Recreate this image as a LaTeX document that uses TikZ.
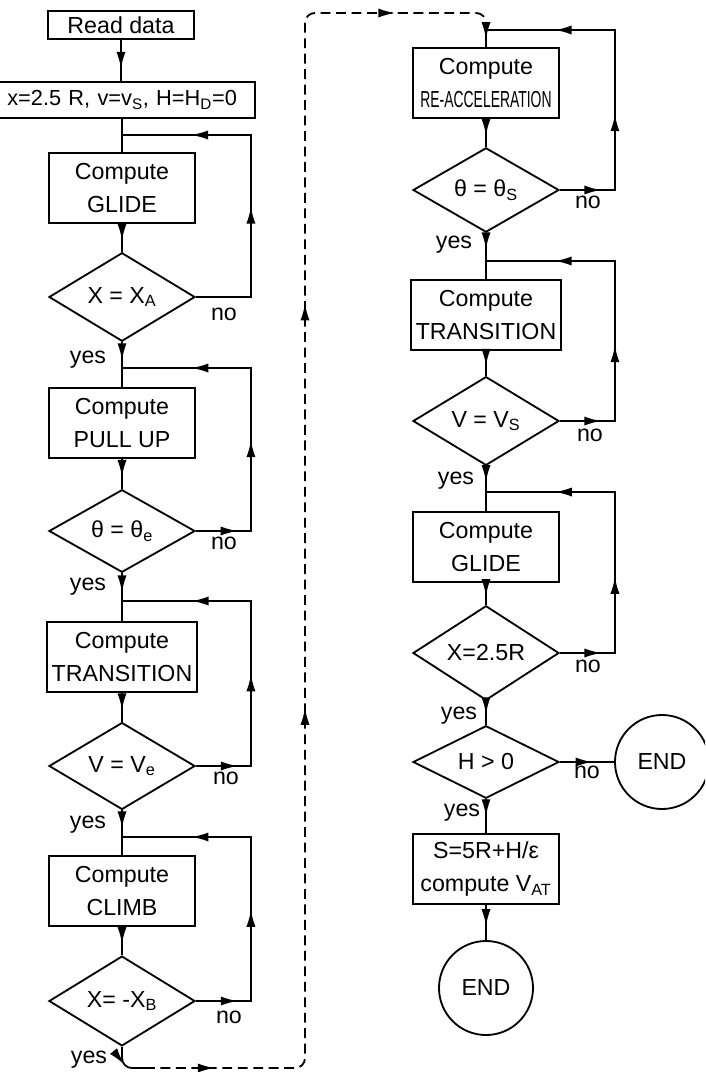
\documentclass[tikz,border=0pt]{standalone}
\usepackage{graphicx}
\usepackage{fontspec}
\setmainfont{Liberation Sans}
\usetikzlibrary{shapes.geometric}
\usetikzlibrary{arrows.meta}
\usetikzlibrary{decorations.markings}
\tikzset{>={Latex[length=12pt,width=6.5pt]}}
\newcommand{\lettering}{\fontsize{16.5}{24}\selectfont}
\tikzset{
    markat/.style={postaction={decorate,decoration={markings,mark=at position #1 with {\arrow{>}}}}},
    proc/.style={draw, minimum width=3.65cm, minimum height=1.75cm, align=center, font=\lettering},
    test/.style={draw, diamond, minimum width=3.65cm, minimum height=1.75cm, inner sep=0pt, font=\lettering},
    stop/.style={draw, circle, minimum size=2.35cm, font=\lettering},
    lbl/.style={font=\lettering, inner sep=0pt},
    back/.style={dash pattern=on 7pt off 4pt},
}

\begin{document}
\begin{tikzpicture}[x=0.025cm, y=-0.025cm, line width=1.3pt]
    \useasboundingbox (0,0) rectangle (705,1072);
    \clip (0,0) rectangle (705,1072);
    % first column
    \node[proc, minimum height=0.7cm] (read) at (121,25) {Read data};
    \node[proc, minimum height=0.9cm, text width=6.25cm, inner xsep=0.45cm, align=right, font=\fontsize{15.5}{18}\selectfont]
        (init) at (112,100) {x=2.5 R, v=v\textsubscript{S}, H=H\textsubscript{D}=0};
    \coordinate (j1) at (122,135);
    \node[proc] (glide1) at (122,188) {Compute\\GLIDE};
    \node[test] (dA) at (122,297) {X = X\textsubscript{A}};
    \coordinate (j2) at (122,368);
    \node[proc] (pull) at (122,423) {Compute\\PULL UP};
    \node[test] (dth) at (122,531) {θ = θ\textsubscript{e}};
    \coordinate (j3) at (122,601);
    \node[proc] (trans1) at (122,657) {Compute\\TRANSITION};
    \node[test] (dve) at (122,766) {V = V\textsubscript{e}};
    \coordinate (j4) at (122,837);
    \node[proc] (climb) at (122,891) {Compute\\CLIMB};
    \node[test] (dxb) at (122,1001) {X= -X\textsubscript{B}};

    \draw[markat=0.7] (read) -- (read |- init.north);
    \draw (init.south -| glide1) -- (glide1);
    \draw[markat=0.6] (glide1) -- (dA);
    \draw[markat=0.42, markat=0.8] (dA.east) -- ++(55,0) |- (j1);
    \draw[markat=0.4] (dA) -- (pull);
    \draw[markat=0.6] (pull) -- (dth);
    \draw[markat=0.12, markat=0.42, markat=0.8] (dth.east) -- ++(55,0) |- (j2);
    \draw[markat=0.4] (dth) -- (trans1);
    \draw[markat=0.6] (trans1) -- (dve);
    \draw[markat=0.12, markat=0.42, markat=0.8] (dve.east) -- ++(55,0) |- (j3);
    \draw[markat=0.4] (dve) -- (climb);
    \draw[markat=0.6] (climb) -- (dxb);
    \draw[markat=0.12, markat=0.42, markat=0.8] (dxb.east) -- ++(55,0) |- (j4);

    \node[lbl] (yA) at ([shift={(-34,17)}]dA.south) {yes};
    \node[lbl] (nA) at ([shift={(28,17)}]dA.east) {no};
    \node[lbl] (yth) at ([shift={(-34,13)}]dth.south) {yes};
    \node[lbl] (nth) at ([shift={(28,12)}]dth.east) {no};
    \node[lbl] (yve) at ([shift={(-34,14)}]dve.south) {yes};
    \node[lbl] (nve) at ([shift={(30,12)}]dve.east) {no};
    \node[lbl] (yxb) at ([shift={(-33,13)}]dxb.south) {yes};
    \node[lbl] (nxb) at ([shift={(33,16)}]dxb.east) {no};

    % second column
    \coordinate (top) at (486,24);
    \coordinate (r1) at (486,30);
    \node[proc] (reacc) at (486,83) {Compute\\\scalebox{0.6}[1]{RE-ACCELERATION}};
    \node[test] (dths) at (486,190) {θ = θ\textsubscript{S}};
    \coordinate (r2) at (486,261);
    \node[proc] (trans2) at (486,315) {Compute\\TRANSITION};
    \node[test] (dvs) at (486,421) {V = V\textsubscript{S}};
    \coordinate (r3) at (486,492);
    \node[proc] (glide2) at (486,547) {Compute\\GLIDE};
    \node[test] (d25) at (486,653) {X=2.5R};
    \node[test] (dh) at (486,762) {H > 0};
    \node[stop] (end1) at (662,762) {END};
    \node[proc] (calc) at (486,869) {S=5R+H/ε\\compute V\textsubscript{AT}};
    \node[stop] (end2) at (486,988) {END};

    \draw[markat=0.65] (top) -- (reacc);
    \draw[markat=0.6] (reacc) -- (dths);
    \draw[markat=0.12, markat=0.38, markat=0.8] (dths.east) -- ++(55,0) |- (r1);
    \draw[markat=0.35] (dths) -- (trans2);
    \draw[markat=0.6] (trans2) -- (dvs);
    \draw[markat=0.12, markat=0.38, markat=0.8] (dvs.east) -- ++(55,0) |- (r2);
    \draw[markat=0.35] (dvs) -- (glide2);
    \draw[markat=0.6] (glide2) -- (d25);
    \draw[markat=0.12, markat=0.38, markat=0.8] (d25.east) -- ++(55,0) |- (r3);
    \draw[markat=0.55] (d25) -- (dh);
    \draw[markat=0.6] (dh) -- (end1);
    \draw[markat=0.5] (dh) -- (calc);
    \draw[markat=0.6] (calc) -- (end2);

    \node[lbl] (yths) at ([shift={(-32,12)}]dths.south) {yes};
    \node[lbl] (nths) at ([shift={(28,12)}]dths.east) {no};
    \node[lbl] (yvs) at ([shift={(-30,14)}]dvs.south) {yes};
    \node[lbl] (nvs) at ([shift={(30,14)}]dvs.east) {no};
    \node[lbl] (y25) at ([shift={(-27,15)}]d25.south) {yes};
    \node[lbl] (n25) at ([shift={(28,13)}]d25.east) {no};
    \node[lbl] (yh) at ([shift={(-24,13)}]dh.south) {yes};
    \node[lbl] (nh) at ([shift={(27,10)}]dh.east) {no};

    % return from the first column to the second
    \draw[rounded corners=7pt, markat=0.45] (dxb.south) |- (145,1068);
    \draw[back, rounded corners=7pt, markat=0.05, markat=0.37, markat=0.66, markat=0.93]
        (145,1068) -| (305,13) -| (top);
\end{tikzpicture}
\end{document}
